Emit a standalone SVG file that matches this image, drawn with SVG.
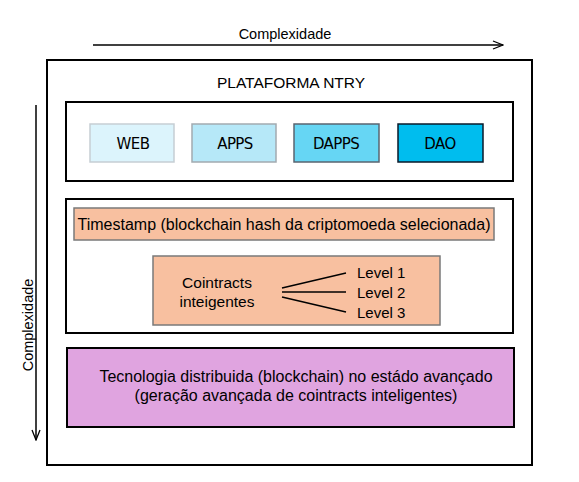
<svg xmlns="http://www.w3.org/2000/svg" width="579" height="482" viewBox="0 0 579 482">
<defs>
<marker id="ah" viewBox="0 0 12 10" refX="11" refY="5" markerWidth="12" markerHeight="10" markerUnits="userSpaceOnUse" orient="auto">
<path d="M1,1 L11,5 L1,9" fill="none" stroke="#000" stroke-width="1.3"/>
</marker>
<style>
text{font-family:"Liberation Sans",Arial,sans-serif;fill:#000}
.frame{fill:#fff;stroke:#000;stroke-width:2}
.app{font-family:"DejaVu Sans",Verdana,sans-serif;font-size:15px;text-anchor:middle;letter-spacing:-0.6px}
.peach{fill:#f8c0a0;stroke:#7a7a7a;stroke-width:1.5}
.ln{stroke:#000;stroke-width:1.5;fill:none}
</style>
</defs>
<rect width="579" height="482" fill="#fff"/>
<g id="axes">
<line x1="93" y1="45" x2="503" y2="45" class="ln" marker-end="url(#ah)"/>
<text x="285" y="39" font-size="14.5" text-anchor="middle">Complexidade</text>
<line x1="36" y1="105" x2="36" y2="440" class="ln" marker-end="url(#ah)"/>
<text x="0" y="0" font-size="14.5" text-anchor="middle" transform="translate(33,325) rotate(-90)">Complexidade</text>
</g>
<g id="platform">
<rect x="47" y="60" width="485" height="405" class="frame"/>
<text x="291" y="88" font-size="15.5" text-anchor="middle">PLATAFORMA NTRY</text>
</g>
<g id="apps-layer">
<rect x="66" y="102" width="447" height="79" class="frame"/>
</g>
<g id="web"><rect x="90" y="124" width="84" height="38" fill="#dcf4fc" stroke="#c6ced4" stroke-width="1.5"/><text x="133" y="149" class="app">WEB</text></g>
<g id="apps"><rect x="192" y="124" width="84" height="38" fill="#b6e8f8" stroke="#a2aab0" stroke-width="1.5"/><text x="235" y="149" class="app">APPS</text></g>
<g id="dapps"><rect x="294" y="124" width="85" height="38" fill="#66d6f4" stroke="#5a6470" stroke-width="1.5"/><text x="336" y="149" class="app">DAPPS</text></g>
<g id="dao"><rect x="398" y="124" width="85" height="38" fill="#00bdee" stroke="#0a1a2a" stroke-width="1.5"/><text x="440" y="149" class="app">DAO</text></g>
<g id="contract-layer">
<rect x="66" y="199" width="447" height="134" class="frame"/>
</g>
<g id="timestamp"><rect x="74" y="208" width="420" height="32" class="peach"/><text x="284" y="230" font-size="16" text-anchor="middle">Timestamp (blockchain hash da criptomoeda selecionada)</text></g>
<g id="contracts"><rect x="153" y="256" width="287" height="69" class="peach"/>
<text x="217" y="288" font-size="15.5" text-anchor="middle">Cointracts</text>
<text x="217" y="307" font-size="15.5" text-anchor="middle">inteigentes</text>
</g>
<g id="connectors">
<line x1="282" y1="288" x2="346" y2="273" class="ln"/>
<line x1="282" y1="292" x2="346" y2="292" class="ln"/>
<line x1="282" y1="297" x2="346" y2="312" class="ln"/>
</g>
<g id="levels">
<text x="357" y="278" font-size="15">Level 1</text>
<text x="357" y="298" font-size="15">Level 2</text>
<text x="357" y="318" font-size="15">Level 3</text>
</g>
<g id="distributed"><rect x="67" y="348" width="447" height="79" fill="#e0a4e0" stroke="#000" stroke-width="2"/>
<text x="296" y="382" font-size="16" text-anchor="middle">Tecnologia distribuida (blockchain) no estádo avançado</text>
<text x="296" y="401" font-size="16" text-anchor="middle">(geração avançada de cointracts inteligentes)</text>
</g>
</svg>
